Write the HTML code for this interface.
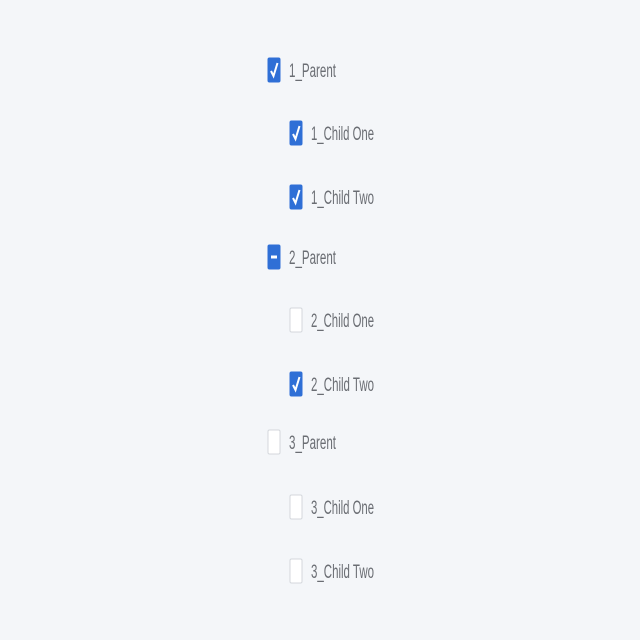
<!DOCTYPE html>
<html><head><meta charset="utf-8"><style>
html,body{margin:0;padding:0;background:#f4f6f9;}
svg{display:block}
text{font-family:"Liberation Sans",sans-serif;font-size:19px;fill:#6a6d73}
</style></head><body>
<svg width="640" height="640">
<rect width="640" height="640" fill="#f4f6f9"/>
<g id="tree"></g>
</svg>
<script>
const labels=["1_Parent","1_Child One","1_Child Two","2_Parent","2_Child One","2_Child Two","3_Parent","3_Child One","3_Child Two"];
const states=["checked","checked","checked","indeterminate","unchecked","checked","unchecked","unchecked","unchecked"];
const levels=[0,1,1,0,1,1,0,1,1];
const ys=[70,133,197,257,320,384,442,507,571];
const g=document.getElementById('tree');
const NS='http://www.w3.org/2000/svg';
labels.forEach((lab,i)=>{
  const bx=levels[i]?290:268, y=ys[i];
  const grp=document.createElementNS(NS,'g');
  
  
  const r=document.createElementNS(NS,'rect');
  r.setAttribute('x',bx);r.setAttribute('y',y-12);r.setAttribute('width',12);r.setAttribute('height',24);r.setAttribute('rx',1.5);
  const on=states[i]!=='unchecked';
  r.setAttribute('fill',on?'#2f6fd6':'#ffffff');
  r.setAttribute('stroke',on?'#2f6fd6':'#d4d7dc');
  r.setAttribute('stroke-width','1');
  
  
  grp.appendChild(r);
  if(states[i]==='checked'){
    const p=document.createElementNS(NS,'path');
    p.setAttribute('d',`M${bx+3} ${y+1} L${bx+5.5} ${y+6} L${bx+9.5} ${y-7}`);
    p.setAttribute('stroke','#fff');p.setAttribute('stroke-width','2');p.setAttribute('fill','none');
    
    
    grp.appendChild(p);
  } else if(states[i]==='indeterminate'){
    const p=document.createElementNS(NS,'rect');
    p.setAttribute('x',bx+3);p.setAttribute('y',y-1.5);p.setAttribute('width',6);p.setAttribute('height',3);p.setAttribute('fill','#fff');
    
    
    grp.appendChild(p);
  }
  const t=document.createElementNS(NS,'text');
  t.setAttribute('x',bx+21);t.setAttribute('y',y+7);
  t.setAttribute('textLength',levels[i]?63:47);
  t.setAttribute('lengthAdjust','spacingAndGlyphs');
  t.textContent=lab;
  
  
  grp.appendChild(t);
  g.appendChild(grp);
});
</script>
</body></html>
